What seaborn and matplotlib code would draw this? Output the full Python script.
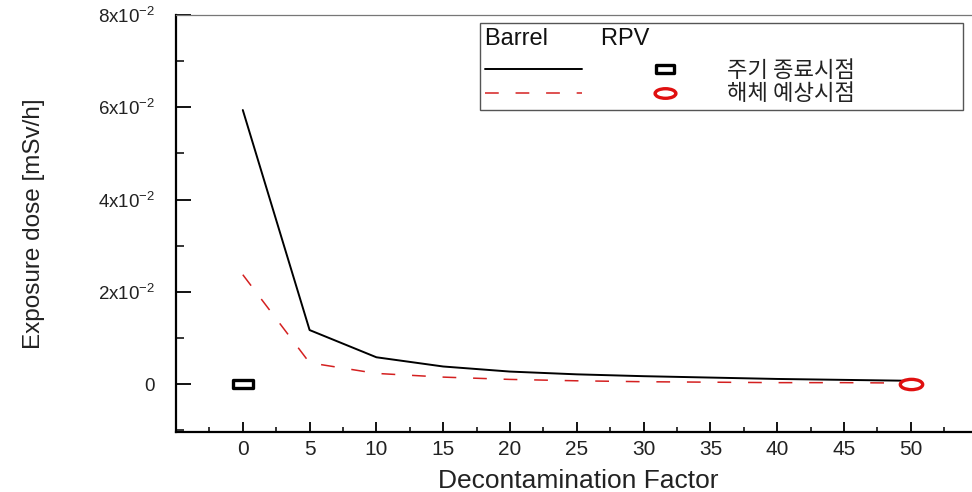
import matplotlib
matplotlib.use("Agg")
import matplotlib.pyplot as plt
import seaborn as sns
import pandas as pd
import numpy as np
from matplotlib.lines import Line2D
from matplotlib.legend_handler import HandlerTuple
from matplotlib.path import Path
from matplotlib.markers import MarkerStyle
from matplotlib.ticker import FixedLocator, FixedFormatter, MultipleLocator

# Decontamination factor and the exposure dose at the two reference times
decon_factor = [0, 5, 10, 15, 20, 25, 30, 35, 40, 45, 50]
cycle_end_dose = [0.0594, 0.0117, 0.0058, 0.0038, 0.0027, 0.0021,
                  0.0017, 0.0014, 0.0011, 0.0009, 0.0007]
dismantle_dose = [0.0237, 0.0046, 0.0023, 0.0015, 0.0010, 0.0007,
                  0.0005, 0.0004, 0.0003, 0.0003, 0.0002]
series_labels = ["주기 종료시점", "해체 예상시점"]
legend_title = "Barrel        RPV"

# single reference points drawn as open markers
cycle_end_point_x = [0]
cycle_end_point_y = [0.0]
dismantle_point_x = [50]
dismantle_point_y = [0.0]

x_tick_values = [0, 5, 10, 15, 20, 25, 30, 35, 40, 45, 50]
y_tick_values = [0.0, 0.02, 0.04, 0.06, 0.08]
y_tick_labels = ["0", "2x10$^{-2}$", "4x10$^{-2}$", "6x10$^{-2}$", "8x10$^{-2}$"]
x_label = "Decontamination Factor"
y_label = "Exposure dose [mSv/h]"

sns.set_theme(style="ticks")
plt.rcParams["font.family"] = ["Liberation Sans", "DejaVu Sans"]
plt.rcParams["mathtext.fontset"] = "custom"
plt.rcParams["mathtext.rm"] = "Liberation Sans"
plt.rcParams["mathtext.it"] = "Liberation Sans:italic"
plt.rcParams["mathtext.bf"] = "Liberation Sans:bold"

W, H = 972, 492
fig = plt.figure(figsize=(W / 100, H / 100), dpi=100)
fig.patch.set_facecolor("white")
ax = fig.add_axes([176 / W, 60 / H, 801.6 / W, 417 / H])
ax.set_facecolor("white")

curves = pd.DataFrame({
    "df": decon_factor * 2,
    "dose": cycle_end_dose + dismantle_dose,
    "series": [series_labels[0]] * len(decon_factor) + [series_labels[1]] * len(decon_factor),
})

sns.lineplot(data=curves[curves["series"] == series_labels[0]], x="df", y="dose",
             color="black", linewidth=1.4, ax=ax, legend=False)
sns.lineplot(data=curves[curves["series"] == series_labels[1]], x="df", y="dose",
             color="#d42020", linewidth=1.1, linestyle=(0, (9, 11)), ax=ax, legend=False)

# wide open rectangle and flat ellipse markers
rect_marker = MarkerStyle(Path([(-1, -0.42), (1, -0.42), (1, 0.42), (-1, 0.42), (-1, -0.42)],
                               [Path.MOVETO, Path.LINETO, Path.LINETO, Path.LINETO, Path.CLOSEPOLY]))
circ = Path.unit_circle()
ellipse_marker = MarkerStyle(Path(circ.vertices * np.array([1.0, 0.46]), circ.codes))

sns.scatterplot(x=cycle_end_point_x, y=cycle_end_point_y, marker=rect_marker, s=215,
                facecolor="white", edgecolor="black", linewidth=2.4, ax=ax, zorder=5)
sns.scatterplot(x=dismantle_point_x, y=dismantle_point_y, marker=ellipse_marker, s=260,
                facecolor="white", edgecolor="#e01010", linewidth=2.4, ax=ax, zorder=5)

ax.set_xlim(-5, 55)
ax.set_ylim(-0.0104, 0.08)

ax.xaxis.set_major_locator(FixedLocator(x_tick_values))
ax.xaxis.set_minor_locator(MultipleLocator(2.5))
ax.yaxis.set_major_locator(FixedLocator(y_tick_values))
ax.yaxis.set_major_formatter(FixedFormatter(y_tick_labels))
ax.yaxis.set_minor_locator(MultipleLocator(0.01))

ax.tick_params(axis="y", which="major", direction="in", length=11, width=1.3,
               pad=15, labelsize=13.5, color="black", labelcolor="#222222")
ax.tick_params(axis="y", which="minor", direction="in", length=6, width=1.1, color="black")
ax.tick_params(axis="x", which="major", direction="in", length=7, width=1.3,
               pad=6, labelsize=15, color="black", labelcolor="#222222")
ax.tick_params(axis="x", which="minor", direction="in", length=3.5, width=1.1, color="black")

for side in ("left", "bottom"):
    ax.spines[side].set_color("black")
    ax.spines[side].set_linewidth(1.6)
ax.spines["top"].set_color("#777777")
ax.spines["top"].set_linewidth(0.9)
ax.spines["right"].set_visible(False)

ax.set_xlabel(x_label, fontsize=19, color="#222222")
ax.xaxis.set_label_coords((578 - 176) / 801.6, -0.088)
ax.set_ylabel(y_label, fontsize=17.5, color="#222222")
ax.yaxis.set_label_coords((45 - 176) / 801.6, 0.5)

# legend: each row pairs the curve style with its reference marker
line_solid = Line2D([], [], color="black", linewidth=1.4)
line_dash = Line2D([], [], color="#d42020", linewidth=1.1, linestyle=(0, (9, 11)))
mk_rect = Line2D([], [], linestyle="none", marker=rect_marker, markersize=13,
                 markerfacecolor="white", markeredgecolor="black", markeredgewidth=2.4)
mk_ell = Line2D([], [], linestyle="none", marker=ellipse_marker, markersize=15,
                markerfacecolor="white", markeredgecolor="#e01010", markeredgewidth=2.4)

leg_size = 16
leg = ax.legend(handles=[(line_solid, mk_rect), (line_dash, mk_ell)], labels=series_labels,
                handler_map={tuple: HandlerTuple(ndivide=None, pad=1.55)},
                title=legend_title, title_fontproperties={"family": ["Liberation Sans"], "size": 17},
                prop={"family": ["Noto Sans CJK KR", "DejaVu Sans"], "size": leg_size},
                loc="upper left", bbox_to_anchor=(480 / W, 1 - 23 / H - 0.3, 483 / W, 0.3),
                bbox_transform=fig.transFigure, mode="expand", alignment="left",
                borderaxespad=0, handlelength=10.3, handletextpad=0.6, borderpad=0.22,
                labelspacing=0.02, frameon=True, fancybox=False, framealpha=1,
                edgecolor="#555555")
leg._legend_box.sep = 6.5
leg.get_frame().set_linewidth(1.0)
for t in leg.get_texts():
    t.set_color("#222222")
leg.get_title().set_color("#111111")

fig.savefig("out.png", dpi=100, facecolor="white")
